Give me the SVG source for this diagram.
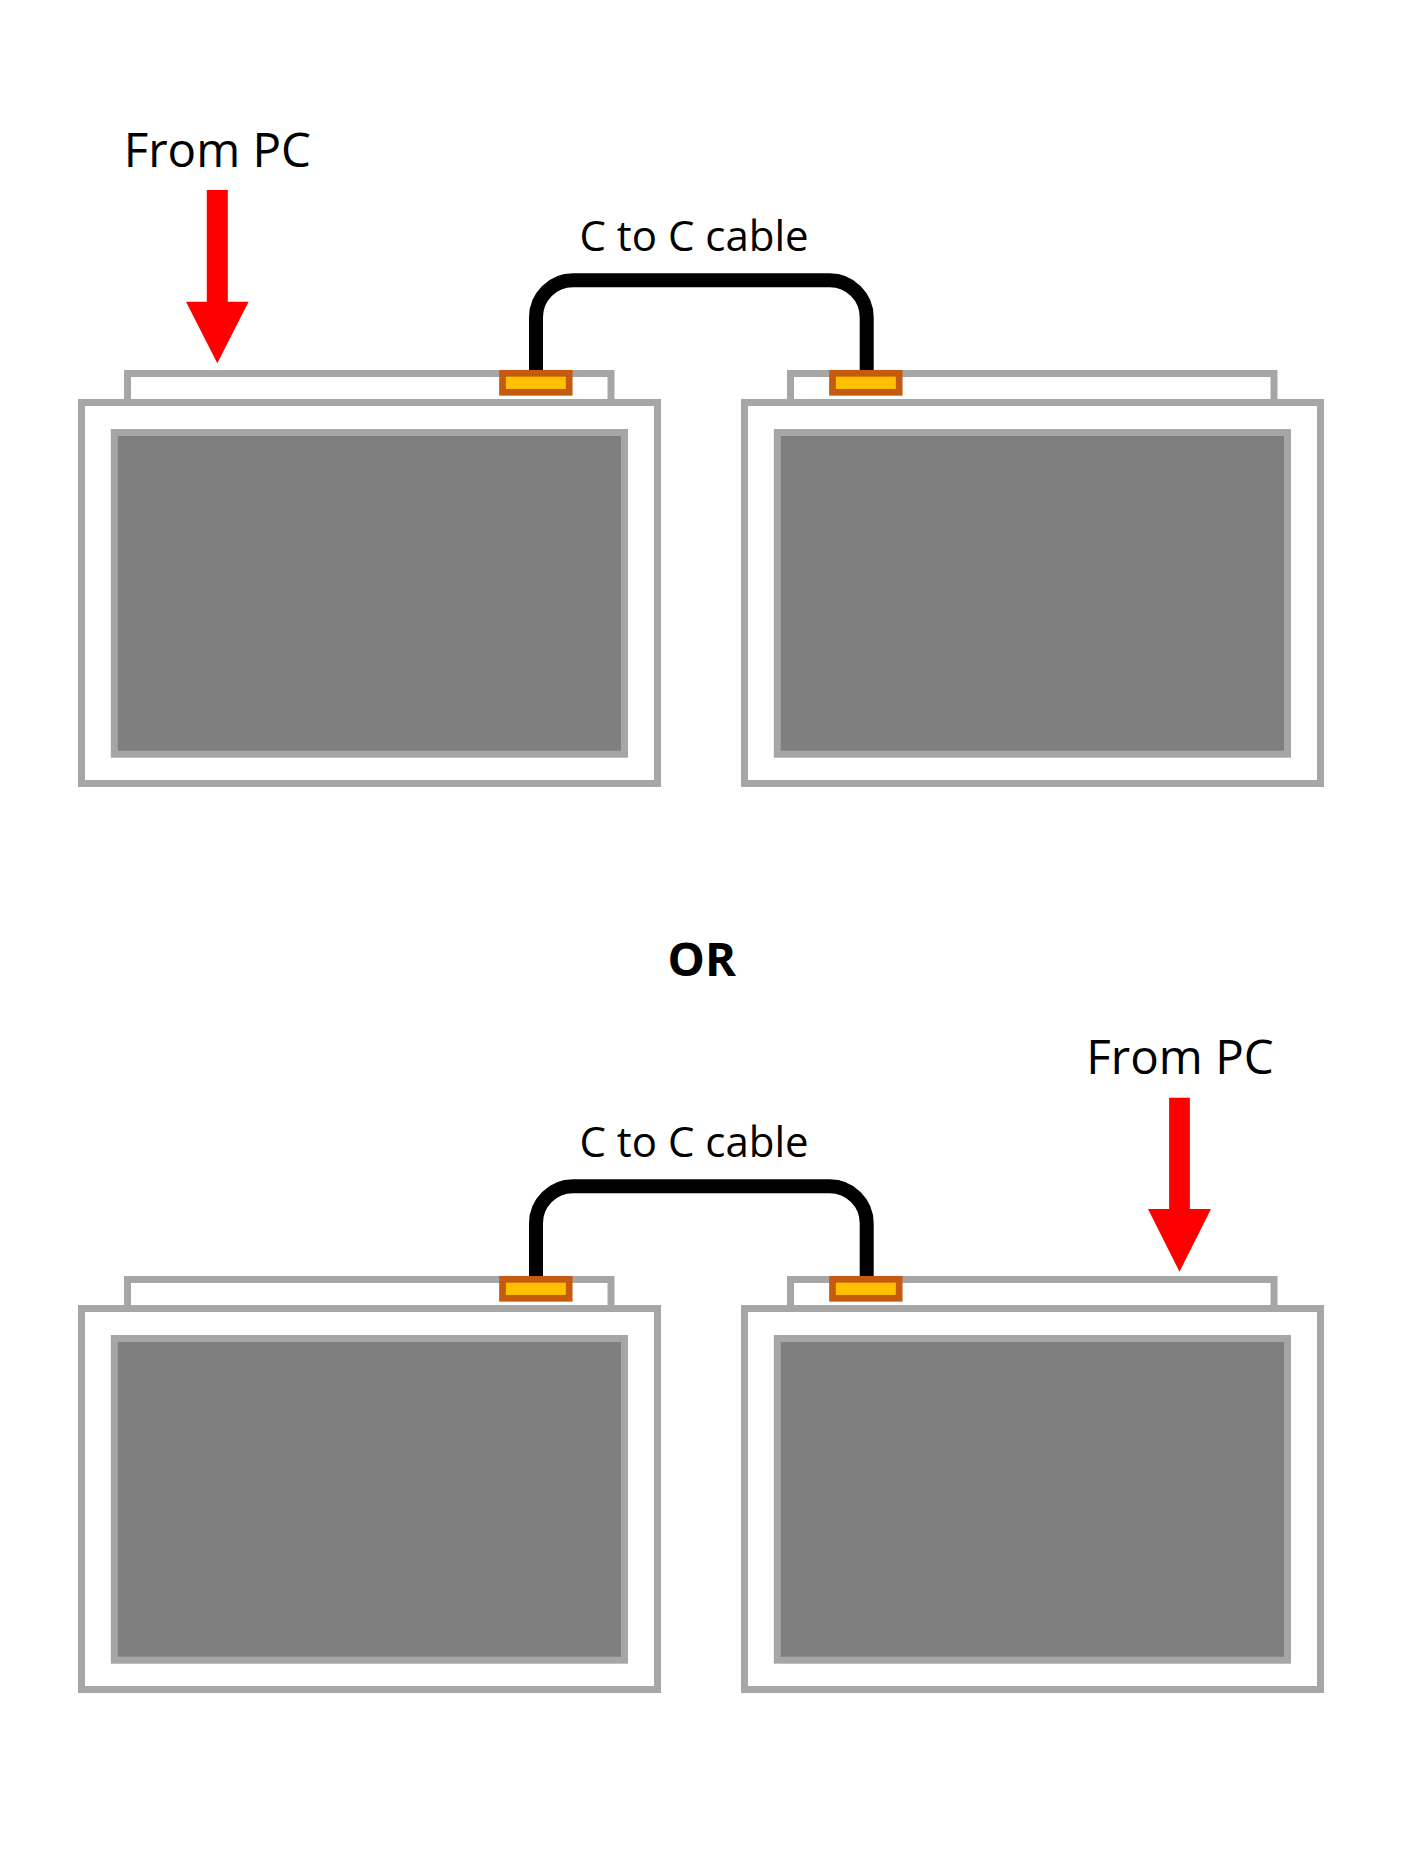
<svg xmlns="http://www.w3.org/2000/svg" width="1401" height="1860" viewBox="0 0 1401 1860">
  <style>
    .strip{fill:#FFFFFF;stroke:#A6A6A6;stroke-width:7}
    .frame{fill:#FFFFFF;stroke:#A6A6A6;stroke-width:7}
    .screen{fill:#7F7F7F;stroke:#A6A6A6;stroke-width:7}
    .port{fill:#FFC000;stroke:#C55A11;stroke-width:6.7}
    .cable{fill:none;stroke:#000000;stroke-width:14}
    .arrow{fill:#FF0000;stroke:none}
    .lbl{font-family:"Open Sans","Noto Sans","DejaVu Sans",sans-serif;fill:#000000;text-anchor:middle}
    .big{font-size:47.5px}
    .mid{font-size:42px}
    .or{font-size:47px;font-weight:bold}
  </style>
  <defs>
    <g id="monitor">
      <rect class="strip" x="127.5" y="373.5" width="483.5" height="40"/>
      <rect class="frame" x="81.5" y="402.5" width="576" height="381"/>
      <rect class="screen" x="114.3" y="432.5" width="510.2" height="321.7"/>
    </g>
  </defs>
  <rect x="0" y="0" width="1401" height="1860" fill="#FFFFFF"/>

  <g id="top-left-monitor"><use href="#monitor"/></g>
  <g id="top-right-monitor"><use href="#monitor" transform="translate(663,0)"/></g>
  <g id="bottom-left-monitor"><use href="#monitor" transform="translate(0,906)"/></g>
  <g id="bottom-right-monitor"><use href="#monitor" transform="translate(663,906)"/></g>

  <g id="connectors">
    <path class="cable" d="M536 372 V317.3 A37 37 0 0 1 573 280.3 H829.7 A37 37 0 0 1 866.7 317.3 V372"/>
    <path class="cable" d="M536 1278 V1223.3 A37 37 0 0 1 573 1186.3 H829.7 A37 37 0 0 1 866.7 1223.3 V1278"/>
    <polygon class="arrow" points="206.8,190 227.8,190 227.8,301.7 248.6,301.7 217.3,363.3 186,301.7 206.8,301.7"/>
    <polygon class="arrow" points="1169.1,1097.7 1189.9,1097.7 1189.9,1209 1211,1209 1179.5,1271.7 1148,1209 1169.1,1209"/>
  </g>

  <g id="ports">
    <rect id="port-tl" class="port" x="502.5" y="373.3" width="66.7" height="19"/>
    <rect id="port-tr" class="port" x="832.5" y="373.3" width="66.7" height="19"/>
    <rect id="port-bl" class="port" x="502.5" y="1279.3" width="66.7" height="19"/>
    <rect id="port-br" class="port" x="832.5" y="1279.3" width="66.7" height="19"/>
  </g>

  <g id="labels">
    <text class="lbl big" x="217.3" y="166.7">From PC</text>
    <text class="lbl mid" x="694" y="250.5">C to C cable</text>
    <text class="lbl or" x="701.7" y="976">OR</text>
    <text class="lbl mid" x="694" y="1156.5">C to C cable</text>
    <text class="lbl big" x="1180" y="1074">From PC</text>
  </g>
</svg>
